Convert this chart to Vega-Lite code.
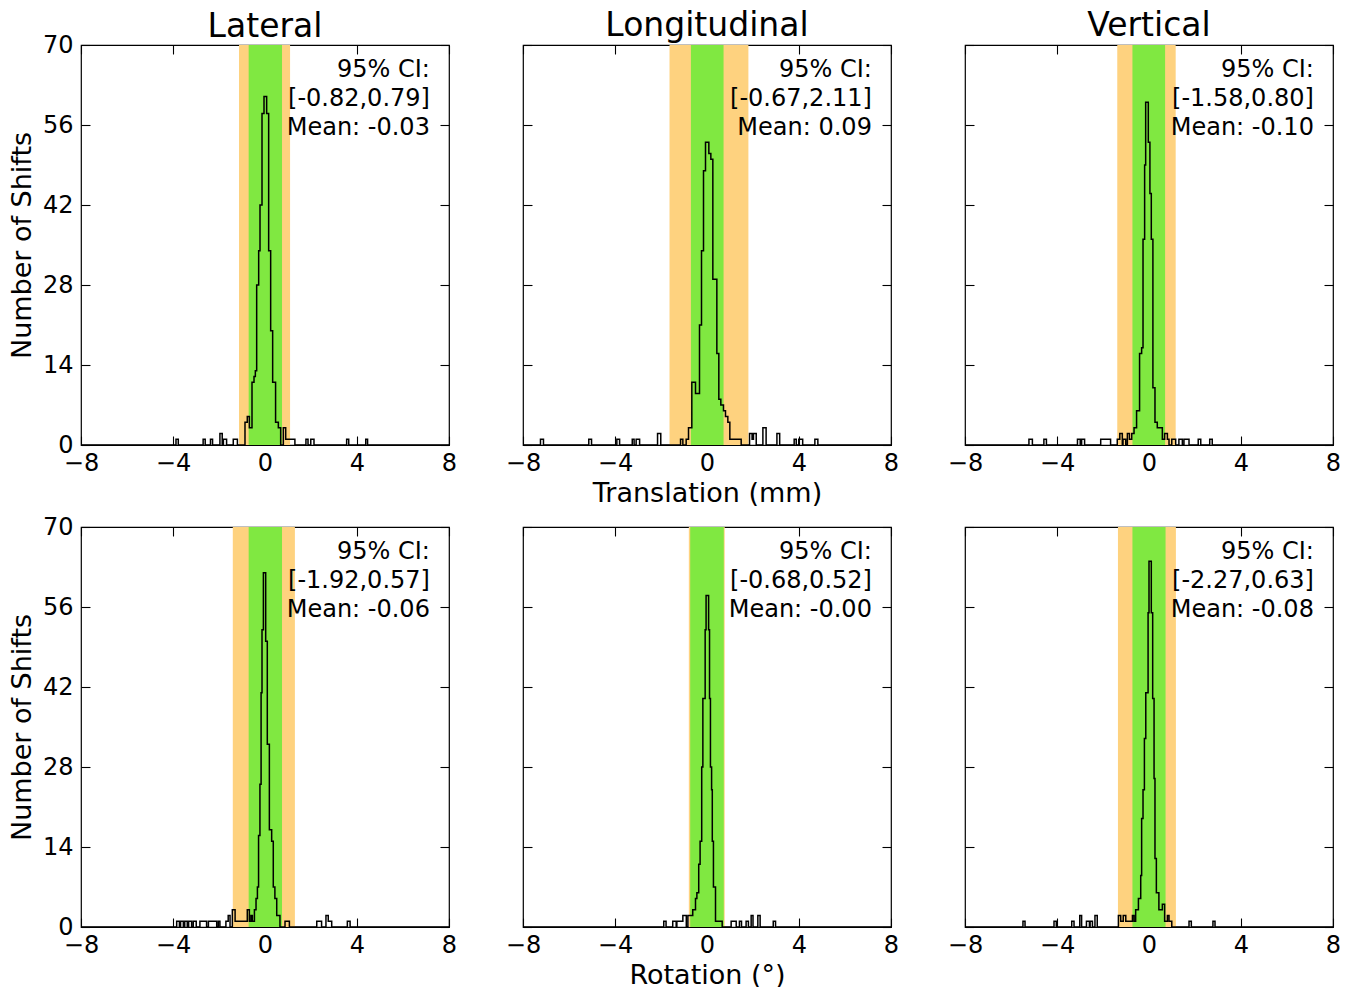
{
  "$schema": "https://vega.github.io/schema/vega-lite/v6.json",
  "background": "white",
  "padding": {"left": 7, "top": 9, "right": 5, "bottom": 2},
  "bounds": "flush",
  "columns": 3,
  "spacing": {"row": 82, "column": 74},
  "datasets": {
    "bands": [
      {"p": "TL", "c": "orange", "x0": -1.13, "x1": 1.09}, {"p": "TL", "c": "green", "x0": -0.71, "x1": 0.74},
      {"p": "TM", "c": "orange", "x0": -1.63, "x1": 1.80}, {"p": "TM", "c": "green", "x0": -0.70, "x1": 0.72},
      {"p": "TR", "c": "orange", "x0": -1.38, "x1": 1.16}, {"p": "TR", "c": "green", "x0": -0.72, "x1": 0.70},
      {"p": "BL", "c": "orange", "x0": -1.40, "x1": 1.30}, {"p": "BL", "c": "green", "x0": -0.71, "x1": 0.74},
      {"p": "BM", "c": "orange", "x0": -0.79, "x1": 0.77}, {"p": "BM", "c": "green", "x0": -0.73, "x1": 0.73},
      {"p": "BR", "c": "orange", "x0": -1.35, "x1": 1.17}, {"p": "BR", "c": "green", "x0": -0.72, "x1": 0.72}
    ],
    "notes": [
      {"p": "TL", "t": "95% CI:\n[-0.82,0.79]\nMean: -0.03"},
      {"p": "TM", "t": "95% CI:\n[-0.67,2.11]\nMean: 0.09"},
      {"p": "TR", "t": "95% CI:\n[-1.58,0.80]\nMean: -0.10"},
      {"p": "BL", "t": "95% CI:\n[-1.92,0.57]\nMean: -0.06"},
      {"p": "BM", "t": "95% CI:\n[-0.68,0.52]\nMean: -0.00"},
      {"p": "BR", "t": "95% CI:\n[-2.27,0.63]\nMean: -0.08"}
    ],
    "hist": [
      {"p": "TL", "x": -8, "n": 0},
      {"p": "TL", "x": -3.87, "n": 1}, {"p": "TL", "x": -3.77, "n": 0},
      {"p": "TL", "x": -2.69, "n": 1}, {"p": "TL", "x": -2.60, "n": 0},
      {"p": "TL", "x": -2.37, "n": 1}, {"p": "TL", "x": -2.28, "n": 0},
      {"p": "TL", "x": -1.96, "n": 2}, {"p": "TL", "x": -1.86, "n": 0},
      {"p": "TL", "x": -1.81, "n": 1}, {"p": "TL", "x": -1.67, "n": 0},
      {"p": "TL", "x": -1.38, "n": 1}, {"p": "TL", "x": -1.20, "n": 0},
      {"p": "TL", "x": -0.87, "n": 4}, {"p": "TL", "x": -0.77, "n": 5}, {"p": "TL", "x": -0.68, "n": 3},
      {"p": "TL", "x": -0.565, "n": 11}, {"p": "TL", "x": -0.478, "n": 12}, {"p": "TL", "x": -0.42, "n": 13},
      {"p": "TL", "x": -0.362, "n": 28}, {"p": "TL", "x": -0.275, "n": 34}, {"p": "TL", "x": -0.217, "n": 42},
      {"p": "TL", "x": -0.13, "n": 58}, {"p": "TL", "x": -0.043, "n": 61}, {"p": "TL", "x": 0.072, "n": 58},
      {"p": "TL", "x": 0.159, "n": 34}, {"p": "TL", "x": 0.246, "n": 20}, {"p": "TL", "x": 0.333, "n": 11},
      {"p": "TL", "x": 0.46, "n": 4}, {"p": "TL", "x": 0.58, "n": 3}, {"p": "TL", "x": 0.681, "n": 0},
      {"p": "TL", "x": 0.797, "n": 3}, {"p": "TL", "x": 0.90, "n": 1}, {"p": "TL", "x": 1.30, "n": 0},
      {"p": "TL", "x": 1.78, "n": 1}, {"p": "TL", "x": 1.87, "n": 0},
      {"p": "TL", "x": 1.99, "n": 1}, {"p": "TL", "x": 2.13, "n": 0},
      {"p": "TL", "x": 3.55, "n": 1}, {"p": "TL", "x": 3.64, "n": 0},
      {"p": "TL", "x": 4.38, "n": 1}, {"p": "TL", "x": 4.46, "n": 0},
      {"p": "TL", "x": 8, "n": 0},

      {"p": "TM", "x": -8, "n": 0},
      {"p": "TM", "x": -7.24, "n": 1}, {"p": "TM", "x": -7.11, "n": 0},
      {"p": "TM", "x": -5.14, "n": 1}, {"p": "TM", "x": -5.02, "n": 0},
      {"p": "TM", "x": -3.92, "n": 1}, {"p": "TM", "x": -3.80, "n": 0},
      {"p": "TM", "x": -3.25, "n": 1}, {"p": "TM", "x": -3.17, "n": 0},
      {"p": "TM", "x": -3.08, "n": 1}, {"p": "TM", "x": -2.93, "n": 0},
      {"p": "TM", "x": -2.15, "n": 2}, {"p": "TM", "x": -2.01, "n": 0},
      {"p": "TM", "x": -1.15, "n": 1}, {"p": "TM", "x": -1.05, "n": 0},
      {"p": "TM", "x": -0.906, "n": 1}, {"p": "TM", "x": -0.804, "n": 3}, {"p": "TM", "x": -0.66, "n": 11},
      {"p": "TM", "x": -0.50, "n": 9}, {"p": "TM", "x": -0.326, "n": 21}, {"p": "TM", "x": -0.239, "n": 34},
      {"p": "TM", "x": -0.152, "n": 48}, {"p": "TM", "x": -0.065, "n": 53}, {"p": "TM", "x": 0.08, "n": 51},
      {"p": "TM", "x": 0.167, "n": 50}, {"p": "TM", "x": 0.254, "n": 29}, {"p": "TM", "x": 0.428, "n": 16},
      {"p": "TM", "x": 0.514, "n": 8}, {"p": "TM", "x": 0.601, "n": 7}, {"p": "TM", "x": 0.717, "n": 6},
      {"p": "TM", "x": 0.804, "n": 5}, {"p": "TM", "x": 0.906, "n": 4}, {"p": "TM", "x": 0.993, "n": 1},
      {"p": "TM", "x": 1.486, "n": 0},
      {"p": "TM", "x": 1.85, "n": 2}, {"p": "TM", "x": 1.96, "n": 1}, {"p": "TM", "x": 2.02, "n": 2}, {"p": "TM", "x": 2.14, "n": 0},
      {"p": "TM", "x": 2.43, "n": 3}, {"p": "TM", "x": 2.57, "n": 0},
      {"p": "TM", "x": 3.04, "n": 2}, {"p": "TM", "x": 3.16, "n": 0},
      {"p": "TM", "x": 3.79, "n": 1}, {"p": "TM", "x": 3.88, "n": 0},
      {"p": "TM", "x": 3.99, "n": 1}, {"p": "TM", "x": 4.16, "n": 0},
      {"p": "TM", "x": 4.69, "n": 1}, {"p": "TM", "x": 4.82, "n": 0},
      {"p": "TM", "x": 8, "n": 0},

      {"p": "TR", "x": -8, "n": 0},
      {"p": "TR", "x": -5.22, "n": 1}, {"p": "TR", "x": -5.07, "n": 0},
      {"p": "TR", "x": -4.57, "n": 1}, {"p": "TR", "x": -4.46, "n": 0},
      {"p": "TR", "x": -3.11, "n": 1}, {"p": "TR", "x": -2.99, "n": 0},
      {"p": "TR", "x": -2.93, "n": 1}, {"p": "TR", "x": -2.80, "n": 0},
      {"p": "TR", "x": -2.10, "n": 1}, {"p": "TR", "x": -1.67, "n": 0},
      {"p": "TR", "x": -1.38, "n": 1}, {"p": "TR", "x": -1.27, "n": 2}, {"p": "TR", "x": -1.16, "n": 0},
      {"p": "TR", "x": -1.13, "n": 1}, {"p": "TR", "x": -1.01, "n": 0},
      {"p": "TR", "x": -0.94, "n": 2}, {"p": "TR", "x": -0.85, "n": 1}, {"p": "TR", "x": -0.75, "n": 2},
      {"p": "TR", "x": -0.65, "n": 3}, {"p": "TR", "x": -0.54, "n": 6}, {"p": "TR", "x": -0.41, "n": 16},
      {"p": "TR", "x": -0.32, "n": 17}, {"p": "TR", "x": -0.26, "n": 36}, {"p": "TR", "x": -0.19, "n": 49},
      {"p": "TR", "x": -0.145, "n": 60}, {"p": "TR", "x": -0.03, "n": 53}, {"p": "TR", "x": 0.04, "n": 44},
      {"p": "TR", "x": 0.10, "n": 36}, {"p": "TR", "x": 0.17, "n": 10}, {"p": "TR", "x": 0.26, "n": 4},
      {"p": "TR", "x": 0.36, "n": 3}, {"p": "TR", "x": 0.46, "n": 3}, {"p": "TR", "x": 0.58, "n": 1},
      {"p": "TR", "x": 0.68, "n": 2}, {"p": "TR", "x": 0.80, "n": 1}, {"p": "TR", "x": 0.87, "n": 0},
      {"p": "TR", "x": 0.99, "n": 1}, {"p": "TR", "x": 1.16, "n": 0},
      {"p": "TR", "x": 1.30, "n": 1}, {"p": "TR", "x": 1.45, "n": 0},
      {"p": "TR", "x": 1.52, "n": 1}, {"p": "TR", "x": 1.74, "n": 0},
      {"p": "TR", "x": 2.14, "n": 1}, {"p": "TR", "x": 2.25, "n": 0},
      {"p": "TR", "x": 2.64, "n": 1}, {"p": "TR", "x": 2.75, "n": 0},
      {"p": "TR", "x": 8, "n": 0},

      {"p": "BL", "x": -8, "n": 0},
      {"p": "BL", "x": -3.84, "n": 1}, {"p": "BL", "x": -3.72, "n": 0},
      {"p": "BL", "x": -3.67, "n": 1}, {"p": "BL", "x": -3.55, "n": 0},
      {"p": "BL", "x": -3.49, "n": 1}, {"p": "BL", "x": -3.38, "n": 0},
      {"p": "BL", "x": -3.32, "n": 1}, {"p": "BL", "x": -3.19, "n": 0},
      {"p": "BL", "x": -3.12, "n": 1}, {"p": "BL", "x": -2.99, "n": 0},
      {"p": "BL", "x": -2.83, "n": 1}, {"p": "BL", "x": -2.54, "n": 0},
      {"p": "BL", "x": -2.46, "n": 1}, {"p": "BL", "x": -2.10, "n": 0},
      {"p": "BL", "x": -2.03, "n": 1}, {"p": "BL", "x": -1.96, "n": 0},
      {"p": "BL", "x": -1.70, "n": 1}, {"p": "BL", "x": -1.60, "n": 2}, {"p": "BL", "x": -1.52, "n": 0},
      {"p": "BL", "x": -1.42, "n": 3}, {"p": "BL", "x": -1.30, "n": 1},
      {"p": "BL", "x": -0.77, "n": 3}, {"p": "BL", "x": -0.68, "n": 1}, {"p": "BL", "x": -0.61, "n": 2},
      {"p": "BL", "x": -0.55, "n": 1}, {"p": "BL", "x": -0.46, "n": 3}, {"p": "BL", "x": -0.39, "n": 5},
      {"p": "BL", "x": -0.33, "n": 7}, {"p": "BL", "x": -0.28, "n": 16}, {"p": "BL", "x": -0.22, "n": 25},
      {"p": "BL", "x": -0.17, "n": 41}, {"p": "BL", "x": -0.13, "n": 52}, {"p": "BL", "x": -0.07, "n": 62},
      {"p": "BL", "x": 0.03, "n": 50}, {"p": "BL", "x": 0.10, "n": 32}, {"p": "BL", "x": 0.19, "n": 17},
      {"p": "BL", "x": 0.29, "n": 15}, {"p": "BL", "x": 0.36, "n": 7}, {"p": "BL", "x": 0.43, "n": 5},
      {"p": "BL", "x": 0.51, "n": 2}, {"p": "BL", "x": 0.65, "n": 0},
      {"p": "BL", "x": 0.87, "n": 1}, {"p": "BL", "x": 1.06, "n": 0},
      {"p": "BL", "x": 2.25, "n": 1}, {"p": "BL", "x": 2.46, "n": 0},
      {"p": "BL", "x": 2.65, "n": 2}, {"p": "BL", "x": 2.75, "n": 1}, {"p": "BL", "x": 2.90, "n": 0},
      {"p": "BL", "x": 3.58, "n": 1}, {"p": "BL", "x": 3.70, "n": 0},
      {"p": "BL", "x": 8, "n": 0},

      {"p": "BM", "x": -8, "n": 0},
      {"p": "BM", "x": -1.88, "n": 1}, {"p": "BM", "x": -1.78, "n": 0},
      {"p": "BM", "x": -1.49, "n": 1}, {"p": "BM", "x": -1.34, "n": 0},
      {"p": "BM", "x": -1.31, "n": 1}, {"p": "BM", "x": -1.05, "n": 2}, {"p": "BM", "x": -0.90, "n": 0},
      {"p": "BM", "x": -0.83, "n": 2}, {"p": "BM", "x": -0.62, "n": 3}, {"p": "BM", "x": -0.50, "n": 5},
      {"p": "BM", "x": -0.44, "n": 6}, {"p": "BM", "x": -0.36, "n": 11}, {"p": "BM", "x": -0.30, "n": 15},
      {"p": "BM", "x": -0.23, "n": 28}, {"p": "BM", "x": -0.18, "n": 40}, {"p": "BM", "x": -0.08, "n": 52},
      {"p": "BM", "x": -0.04, "n": 58}, {"p": "BM", "x": 0.07, "n": 52}, {"p": "BM", "x": 0.11, "n": 40},
      {"p": "BM", "x": 0.15, "n": 28}, {"p": "BM", "x": 0.20, "n": 24}, {"p": "BM", "x": 0.23, "n": 15},
      {"p": "BM", "x": 0.28, "n": 7}, {"p": "BM", "x": 0.37, "n": 1}, {"p": "BM", "x": 0.66, "n": 0},
      {"p": "BM", "x": 1.05, "n": 1}, {"p": "BM", "x": 1.27, "n": 0},
      {"p": "BM", "x": 1.41, "n": 1}, {"p": "BM", "x": 1.50, "n": 0},
      {"p": "BM", "x": 1.70, "n": 1}, {"p": "BM", "x": 1.80, "n": 0},
      {"p": "BM", "x": 1.92, "n": 2}, {"p": "BM", "x": 2.00, "n": 0},
      {"p": "BM", "x": 2.21, "n": 2}, {"p": "BM", "x": 2.31, "n": 0},
      {"p": "BM", "x": 2.88, "n": 1}, {"p": "BM", "x": 2.98, "n": 0},
      {"p": "BM", "x": 8, "n": 0},

      {"p": "BR", "x": -8, "n": 0},
      {"p": "BR", "x": -5.48, "n": 1}, {"p": "BR", "x": -5.39, "n": 0},
      {"p": "BR", "x": -4.13, "n": 1}, {"p": "BR", "x": -4.03, "n": 0},
      {"p": "BR", "x": -3.36, "n": 1}, {"p": "BR", "x": -3.26, "n": 0},
      {"p": "BR", "x": -3.01, "n": 2}, {"p": "BR", "x": -2.93, "n": 0},
      {"p": "BR", "x": -2.72, "n": 1}, {"p": "BR", "x": -2.59, "n": 0},
      {"p": "BR", "x": -2.56, "n": 1}, {"p": "BR", "x": -2.46, "n": 0},
      {"p": "BR", "x": -2.35, "n": 2}, {"p": "BR", "x": -2.25, "n": 0},
      {"p": "BR", "x": -1.33, "n": 2}, {"p": "BR", "x": -1.23, "n": 1}, {"p": "BR", "x": -1.12, "n": 2},
      {"p": "BR", "x": -1.01, "n": 1}, {"p": "BR", "x": -0.72, "n": 2}, {"p": "BR", "x": -0.65, "n": 1},
      {"p": "BR", "x": -0.58, "n": 3}, {"p": "BR", "x": -0.46, "n": 5}, {"p": "BR", "x": -0.36, "n": 9},
      {"p": "BR", "x": -0.32, "n": 19}, {"p": "BR", "x": -0.26, "n": 24}, {"p": "BR", "x": -0.20, "n": 33},
      {"p": "BR", "x": -0.14, "n": 41}, {"p": "BR", "x": -0.04, "n": 55}, {"p": "BR", "x": 0.0, "n": 64},
      {"p": "BR", "x": 0.10, "n": 55}, {"p": "BR", "x": 0.16, "n": 40}, {"p": "BR", "x": 0.22, "n": 26},
      {"p": "BR", "x": 0.26, "n": 12}, {"p": "BR", "x": 0.32, "n": 6}, {"p": "BR", "x": 0.43, "n": 3},
      {"p": "BR", "x": 0.58, "n": 4}, {"p": "BR", "x": 0.68, "n": 1}, {"p": "BR", "x": 0.80, "n": 2},
      {"p": "BR", "x": 0.87, "n": 1}, {"p": "BR", "x": 0.99, "n": 0},
      {"p": "BR", "x": 1.74, "n": 1}, {"p": "BR", "x": 1.84, "n": 0},
      {"p": "BR", "x": 2.78, "n": 1}, {"p": "BR", "x": 2.87, "n": 0},
      {"p": "BR", "x": 8, "n": 0}
    ]
  },
  "concat": [
    {
      "width": 368, "height": 400, "title": {"text": "Lateral", "dy": 12},
      "layer": [
        {"data": {"name": "bands"}, "transform": [{"filter": "datum.p === 'TL'"}], "mark": "rect",
         "encoding": {"x": {"field": "x0", "type": "quantitative", "scale": {"domain": [-8, 8], "nice": false}, "axis": null}, "x2": {"field": "x1"},
                      "color": {"field": "c", "type": "nominal", "scale": {"domain": ["orange", "green"], "range": ["#fed27f", "#80e841"]}, "legend": null}}},
        {"data": {"name": "hist"}, "transform": [{"filter": "datum.p === 'TL'"}], "mark": {"type": "line", "interpolate": "step-after", "color": "#000", "strokeWidth": 1.5},
         "encoding": {"x": {"field": "x", "type": "quantitative", "axis": {"orient": "bottom", "values": [-8, -4, 0, 4, 8], "title": null}},
                      "y": {"field": "n", "type": "quantitative", "scale": {"domain": [0, 70], "nice": false}, "axis": {"orient": "left", "values": [0, 14, 28, 42, 56, 70], "title": "Number of Shifts"}}}},
        {"data": {"name": "notes"}, "transform": [{"filter": "datum.p === 'TL'"}], "mark": {"type": "text", "align": "right", "baseline": "top", "lineBreak": "\n", "lineHeight": 29, "fontSize": 24},
         "encoding": {"x": {"datum": 7.17, "type": "quantitative", "axis": {"orient": "top", "values": [-8, -4, 0, 4, 8], "labels": false, "title": null}},
                      "y": {"datum": 67.7, "type": "quantitative", "axis": {"orient": "right", "values": [0, 14, 28, 42, 56, 70], "labels": false, "title": null}},
                      "text": {"field": "t"}}}
      ]
    },
    {
      "width": 368, "height": 400, "title": "Longitudinal",
      "layer": [
        {"data": {"name": "bands"}, "transform": [{"filter": "datum.p === 'TM'"}], "mark": "rect",
         "encoding": {"x": {"field": "x0", "type": "quantitative", "scale": {"domain": [-8, 8], "nice": false}, "axis": null}, "x2": {"field": "x1"},
                      "color": {"field": "c", "type": "nominal", "scale": {"domain": ["orange", "green"], "range": ["#fed27f", "#80e841"]}, "legend": null}}},
        {"data": {"name": "hist"}, "transform": [{"filter": "datum.p === 'TM'"}], "mark": {"type": "line", "interpolate": "step-after", "color": "#000", "strokeWidth": 1.5},
         "encoding": {"x": {"field": "x", "type": "quantitative", "axis": {"orient": "bottom", "values": [-8, -4, 0, 4, 8], "title": "Translation (mm)"}},
                      "y": {"field": "n", "type": "quantitative", "scale": {"domain": [0, 70], "nice": false}, "axis": {"orient": "left", "values": [0, 14, 28, 42, 56, 70], "labels": false, "title": null}}}},
        {"data": {"name": "notes"}, "transform": [{"filter": "datum.p === 'TM'"}], "mark": {"type": "text", "align": "right", "baseline": "top", "lineBreak": "\n", "lineHeight": 29, "fontSize": 24},
         "encoding": {"x": {"datum": 7.17, "type": "quantitative", "axis": {"orient": "top", "values": [-8, -4, 0, 4, 8], "labels": false, "title": null}},
                      "y": {"datum": 67.7, "type": "quantitative", "axis": {"orient": "right", "values": [0, 14, 28, 42, 56, 70], "labels": false, "title": null}},
                      "text": {"field": "t"}}}
      ]
    },
    {
      "width": 368, "height": 400, "title": "Vertical",
      "layer": [
        {"data": {"name": "bands"}, "transform": [{"filter": "datum.p === 'TR'"}], "mark": "rect",
         "encoding": {"x": {"field": "x0", "type": "quantitative", "scale": {"domain": [-8, 8], "nice": false}, "axis": null}, "x2": {"field": "x1"},
                      "color": {"field": "c", "type": "nominal", "scale": {"domain": ["orange", "green"], "range": ["#fed27f", "#80e841"]}, "legend": null}}},
        {"data": {"name": "hist"}, "transform": [{"filter": "datum.p === 'TR'"}], "mark": {"type": "line", "interpolate": "step-after", "color": "#000", "strokeWidth": 1.5},
         "encoding": {"x": {"field": "x", "type": "quantitative", "axis": {"orient": "bottom", "values": [-8, -4, 0, 4, 8], "title": null}},
                      "y": {"field": "n", "type": "quantitative", "scale": {"domain": [0, 70], "nice": false}, "axis": {"orient": "left", "values": [0, 14, 28, 42, 56, 70], "labels": false, "title": null}}}},
        {"data": {"name": "notes"}, "transform": [{"filter": "datum.p === 'TR'"}], "mark": {"type": "text", "align": "right", "baseline": "top", "lineBreak": "\n", "lineHeight": 29, "fontSize": 24},
         "encoding": {"x": {"datum": 7.17, "type": "quantitative", "axis": {"orient": "top", "values": [-8, -4, 0, 4, 8], "labels": false, "title": null}},
                      "y": {"datum": 67.7, "type": "quantitative", "axis": {"orient": "right", "values": [0, 14, 28, 42, 56, 70], "labels": false, "title": null}},
                      "text": {"field": "t"}}}
      ]
    },
    {
      "width": 368, "height": 400,
      "layer": [
        {"data": {"name": "bands"}, "transform": [{"filter": "datum.p === 'BL'"}], "mark": "rect",
         "encoding": {"x": {"field": "x0", "type": "quantitative", "scale": {"domain": [-8, 8], "nice": false}, "axis": null}, "x2": {"field": "x1"},
                      "color": {"field": "c", "type": "nominal", "scale": {"domain": ["orange", "green"], "range": ["#fed27f", "#80e841"]}, "legend": null}}},
        {"data": {"name": "hist"}, "transform": [{"filter": "datum.p === 'BL'"}], "mark": {"type": "line", "interpolate": "step-after", "color": "#000", "strokeWidth": 1.5},
         "encoding": {"x": {"field": "x", "type": "quantitative", "axis": {"orient": "bottom", "values": [-8, -4, 0, 4, 8], "title": null}},
                      "y": {"field": "n", "type": "quantitative", "scale": {"domain": [0, 70], "nice": false}, "axis": {"orient": "left", "values": [0, 14, 28, 42, 56, 70], "title": "Number of Shifts"}}}},
        {"data": {"name": "notes"}, "transform": [{"filter": "datum.p === 'BL'"}], "mark": {"type": "text", "align": "right", "baseline": "top", "lineBreak": "\n", "lineHeight": 29, "fontSize": 24},
         "encoding": {"x": {"datum": 7.17, "type": "quantitative", "axis": {"orient": "top", "values": [-8, -4, 0, 4, 8], "labels": false, "title": null}},
                      "y": {"datum": 67.7, "type": "quantitative", "axis": {"orient": "right", "values": [0, 14, 28, 42, 56, 70], "labels": false, "title": null}},
                      "text": {"field": "t"}}}
      ]
    },
    {
      "width": 368, "height": 400,
      "layer": [
        {"data": {"name": "bands"}, "transform": [{"filter": "datum.p === 'BM'"}], "mark": "rect",
         "encoding": {"x": {"field": "x0", "type": "quantitative", "scale": {"domain": [-8, 8], "nice": false}, "axis": null}, "x2": {"field": "x1"},
                      "color": {"field": "c", "type": "nominal", "scale": {"domain": ["orange", "green"], "range": ["#fed27f", "#80e841"]}, "legend": null}}},
        {"data": {"name": "hist"}, "transform": [{"filter": "datum.p === 'BM'"}], "mark": {"type": "line", "interpolate": "step-after", "color": "#000", "strokeWidth": 1.5},
         "encoding": {"x": {"field": "x", "type": "quantitative", "axis": {"orient": "bottom", "values": [-8, -4, 0, 4, 8], "title": "Rotation (°)"}},
                      "y": {"field": "n", "type": "quantitative", "scale": {"domain": [0, 70], "nice": false}, "axis": {"orient": "left", "values": [0, 14, 28, 42, 56, 70], "labels": false, "title": null}}}},
        {"data": {"name": "notes"}, "transform": [{"filter": "datum.p === 'BM'"}], "mark": {"type": "text", "align": "right", "baseline": "top", "lineBreak": "\n", "lineHeight": 29, "fontSize": 24},
         "encoding": {"x": {"datum": 7.17, "type": "quantitative", "axis": {"orient": "top", "values": [-8, -4, 0, 4, 8], "labels": false, "title": null}},
                      "y": {"datum": 67.7, "type": "quantitative", "axis": {"orient": "right", "values": [0, 14, 28, 42, 56, 70], "labels": false, "title": null}},
                      "text": {"field": "t"}}}
      ]
    },
    {
      "width": 368, "height": 400,
      "layer": [
        {"data": {"name": "bands"}, "transform": [{"filter": "datum.p === 'BR'"}], "mark": "rect",
         "encoding": {"x": {"field": "x0", "type": "quantitative", "scale": {"domain": [-8, 8], "nice": false}, "axis": null}, "x2": {"field": "x1"},
                      "color": {"field": "c", "type": "nominal", "scale": {"domain": ["orange", "green"], "range": ["#fed27f", "#80e841"]}, "legend": null}}},
        {"data": {"name": "hist"}, "transform": [{"filter": "datum.p === 'BR'"}], "mark": {"type": "line", "interpolate": "step-after", "color": "#000", "strokeWidth": 1.5},
         "encoding": {"x": {"field": "x", "type": "quantitative", "axis": {"orient": "bottom", "values": [-8, -4, 0, 4, 8], "title": null}},
                      "y": {"field": "n", "type": "quantitative", "scale": {"domain": [0, 70], "nice": false}, "axis": {"orient": "left", "values": [0, 14, 28, 42, 56, 70], "labels": false, "title": null}}}},
        {"data": {"name": "notes"}, "transform": [{"filter": "datum.p === 'BR'"}], "mark": {"type": "text", "align": "right", "baseline": "top", "lineBreak": "\n", "lineHeight": 29, "fontSize": 24},
         "encoding": {"x": {"datum": 7.17, "type": "quantitative", "axis": {"orient": "top", "values": [-8, -4, 0, 4, 8], "labels": false, "title": null}},
                      "y": {"datum": 67.7, "type": "quantitative", "axis": {"orient": "right", "values": [0, 14, 28, 42, 56, 70], "labels": false, "title": null}},
                      "text": {"field": "t"}}}
      ]
    }
  ],
  "config": {
    "font": "DejaVu Sans",
    "view": {"stroke": "#000", "strokeWidth": 1.2},
    "text": {"font": "DejaVu Sans", "color": "#000"},
    "title": {"fontSize": 33, "fontWeight": "normal", "font": "DejaVu Sans", "color": "#000", "baseline": "alphabetic", "offset": 1},
    "axis": {"domain": false, "grid": false, "ticks": true, "tickSize": -9, "tickColor": "#000", "tickWidth": 1.1,
             "labelFont": "DejaVu Sans", "labelFontSize": 24, "labelColor": "#000", "labelFlush": false, "labelOverlap": false,
             "titleFont": "DejaVu Sans", "titleFontSize": 27, "titleFontWeight": "normal", "titleColor": "#000", "zindex": 1},
    "axisX": {"labelPadding": 15, "titlePadding": 5},
    "axisY": {"labelPadding": 17, "titlePadding": 6}
  }
}
